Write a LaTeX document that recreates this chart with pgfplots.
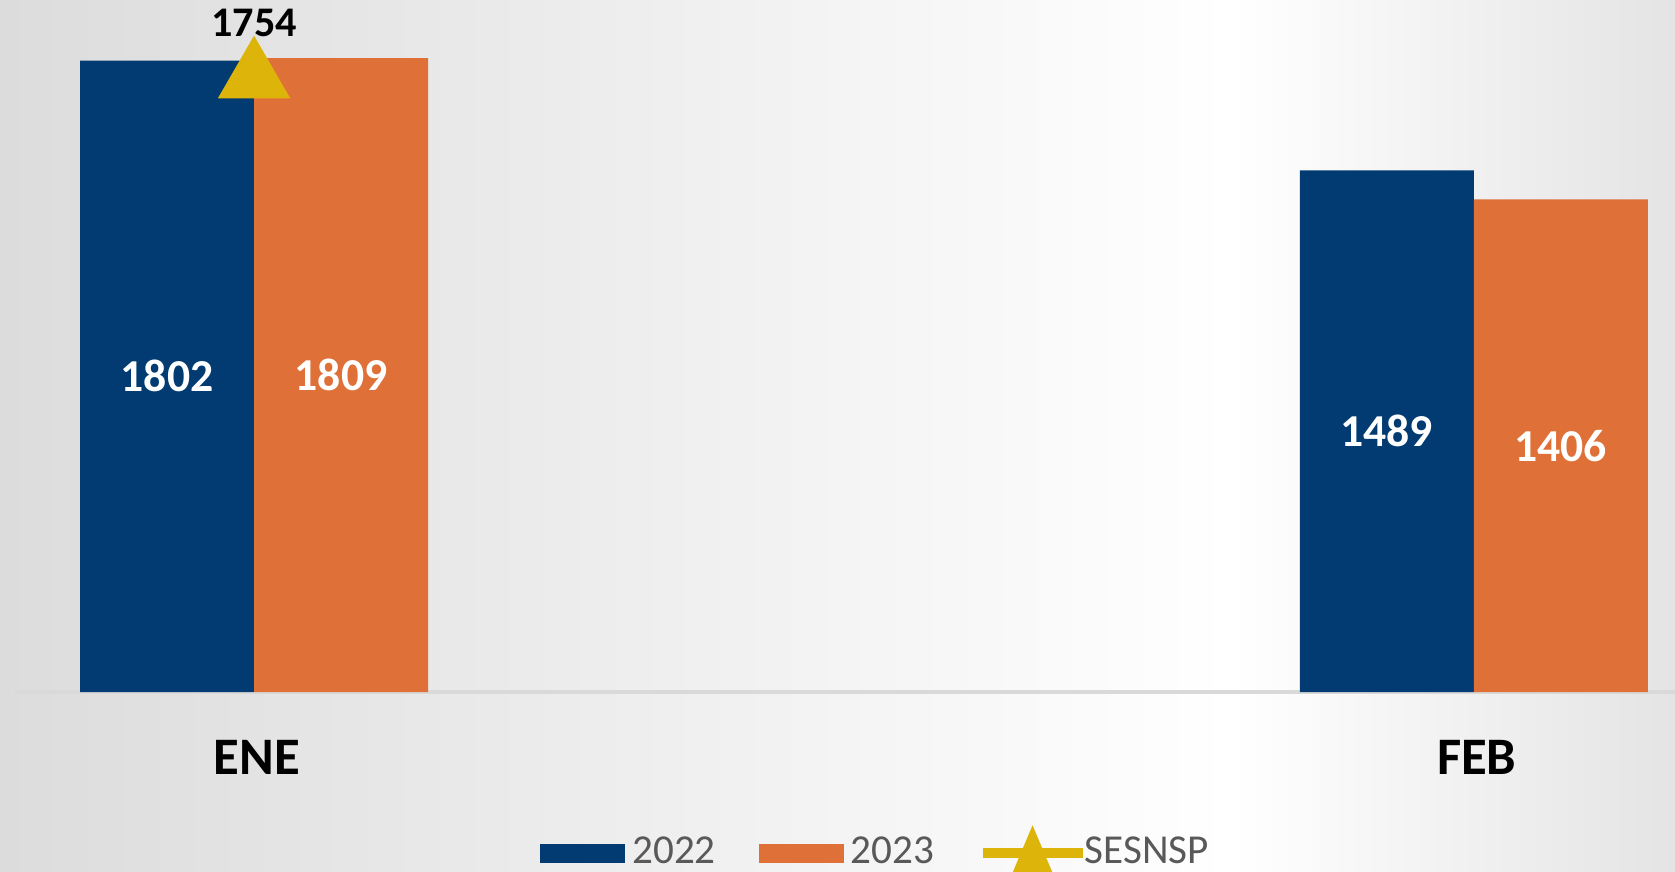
\documentclass[border=0pt]{standalone}
\usepackage{pgfplots}
\pgfplotsset{compat=1.18}
\usepackage{fontspec}
\setmainfont{Carlito}
\definecolor{c2022}{HTML}{013B71}
\definecolor{c2023}{HTML}{DF7038}
\definecolor{cses}{HTML}{DDB50A}
\definecolor{bgl}{HTML}{DCDCDC}
\definecolor{bgr}{HTML}{E4E4E4}
\definecolor{txtgray}{HTML}{595959}
\begin{document}
\begin{tikzpicture}
% background, 1px = 0.01cm
\shade[left color=bgl, right color=white] (0,0) rectangle (12.3,8.71);
\shade[left color=white, right color=bgr] (12.3,0) rectangle (16.75,8.71);
\begin{axis}[
  at={(0.15cm,8.71cm)}, anchor=north west,
  scale only axis, width=16.6cm, height=6.92cm,
  xmin=-0.196, xmax=1.165, ymin=0, ymax=1975,
  clip=false,
  ybar, bar width=1.74cm,
  axis y line=none,
  axis x line*=bottom,
  x axis line style={draw=black!15, line width=1.2pt},
  xtick={0,1}, xticklabels={ENE,FEB},
  major tick length=0pt,
  xticklabel style={font=\bfseries\fontsize{15}{15}\selectfont, anchor=center, yshift=-0.65cm, xshift=0.03cm},
  /pgf/number format/.cd, 1000 sep={}, assume math mode=true, /pgfplots/.cd,
  legend columns=3,
  legend style={at={(0.52,0)}, anchor=center, yshift=-1.6cm, draw=none, fill=none,
    font=\fontsize{11.7}{11.7}\selectfont, text=txtgray,
    /tikz/every even column/.append style={column sep=0.36cm}},
]
\addplot[fill=c2022, draw=none, bar shift=-0.87cm,
  visualization depends on=y \as \rawy,
  nodes near coords,
  nodes near coords style={font=\bfseries\fontsize{13}{13}\selectfont, text=white, anchor=center,
    shift={(axis direction cs:0,-0.5*\rawy)}},
  legend image code/.code={\fill[c2022] (0cm,-0.095cm) rectangle (0.85cm,0.095cm);}]
  coordinates {(0,1802) (1,1489)};
\addlegendentry{2022}
\addplot[fill=c2023, draw=none, bar shift=0.87cm,
  visualization depends on=y \as \rawy,
  nodes near coords,
  nodes near coords style={font=\bfseries\fontsize{13}{13}\selectfont, text=white, anchor=center,
    shift={(axis direction cs:0,-0.5*\rawy)}},
  legend image code/.code={\fill[c2023] (0cm,-0.095cm) rectangle (0.85cm,0.095cm);}]
  coordinates {(0,1809) (1,1406)};
\addlegendentry{2023}
\addplot[bar shift=0pt, color=cses, fill=none, only marks, mark=triangle*, mark size=11.5pt,
  mark options={fill=cses, draw=cses},
  nodes near coords,
  nodes near coords style={font=\bfseries\fontsize{12}{12}\selectfont, text=black, anchor=south, yshift=8pt},
  legend image code/.code={\draw[cses, line width=3pt] (0cm,0cm) -- (1.0cm,0cm);
    \fill[cses] (0.5cm,0.26cm) -- (0.71cm,-0.24cm) -- (0.29cm,-0.24cm) -- cycle;}]
  coordinates {(0,1754)};
\addlegendentry{\hspace{-0.1cm}SESNSP}
\end{axis}
\pgfresetboundingbox
\path (0,0) rectangle (16.75,8.71);
\end{tikzpicture}
\end{document}
